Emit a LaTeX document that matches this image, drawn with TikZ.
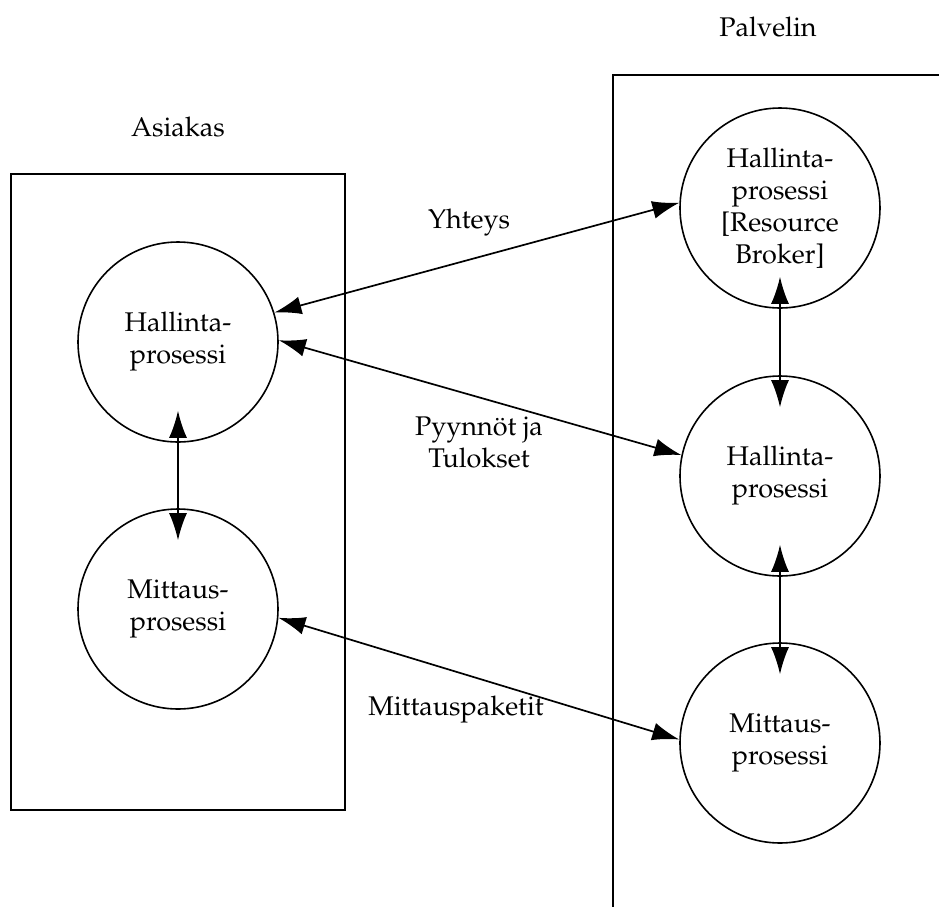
\documentclass[tikz,border=0pt]{standalone}
\usepackage[T1]{fontenc}
\usepackage{mathpazo}
\usetikzlibrary{positioning, arrows.meta}

\begin{document}
\begin{tikzpicture}[
    x=0.5pt, y=-0.5pt,
    font=\fontsize{13.5}{16}\selectfont,
    >={Latex[length=13.5pt, width=9pt]},
    proc/.style={circle, draw, line width=0.8pt, minimum size=100pt,
        inner sep=0pt, align=center},
    link/.style={<->, line width=0.85pt},
    inner/.style={link, shorten <=-16pt, shorten >=-16pt},
    side/.style={line width=0.65pt},
]
\useasboundingbox (0,0) rectangle (939,907);

% ---- Client and server areas ----
\draw[side] (11,174) rectangle (345,810);
\draw[side] (939,75) -- (613,75) -- (613,907);
\node (asiakas) at (178,127) {Asiakas};
\node (palvelin) at (768,27) {Palvelin};

% ---- Processes ----
\node[proc] (hallA) at (178,342) {Hallinta-\\prosessi};
\node[proc] (mittA) at (178,609) {Mittaus-\\prosessi};

\node[proc] (broker) at (780,208) {Hallinta-\\prosessi\\{}[Resource\\Broker]};
\node[proc] (hallP) at (780,476) {Hallinta-\\prosessi};
\node[proc] (mittP) at (780,743) {Mittaus-\\prosessi};

% ---- Connections between the sides ----
\draw[link] (hallA.17) -- (broker.177);
\draw[link] (hallA.1) -- (hallP.168);
\draw[link] (mittA.-5) -- (mittP.178);

\node (yhteys) at (469,223) {Yhteys};
\node[align=center] (pyynnot) at (479,442) {Pyynn\"ot ja\\Tulokset};
\node (paketit) at (456,710) {Mittauspaketit};

% ---- Connections inside each side ----
\draw[inner] (hallA) -- (mittA);
\draw[inner] (broker) -- (hallP);
\draw[inner] (hallP) -- (mittP);

\end{tikzpicture}
\end{document}
